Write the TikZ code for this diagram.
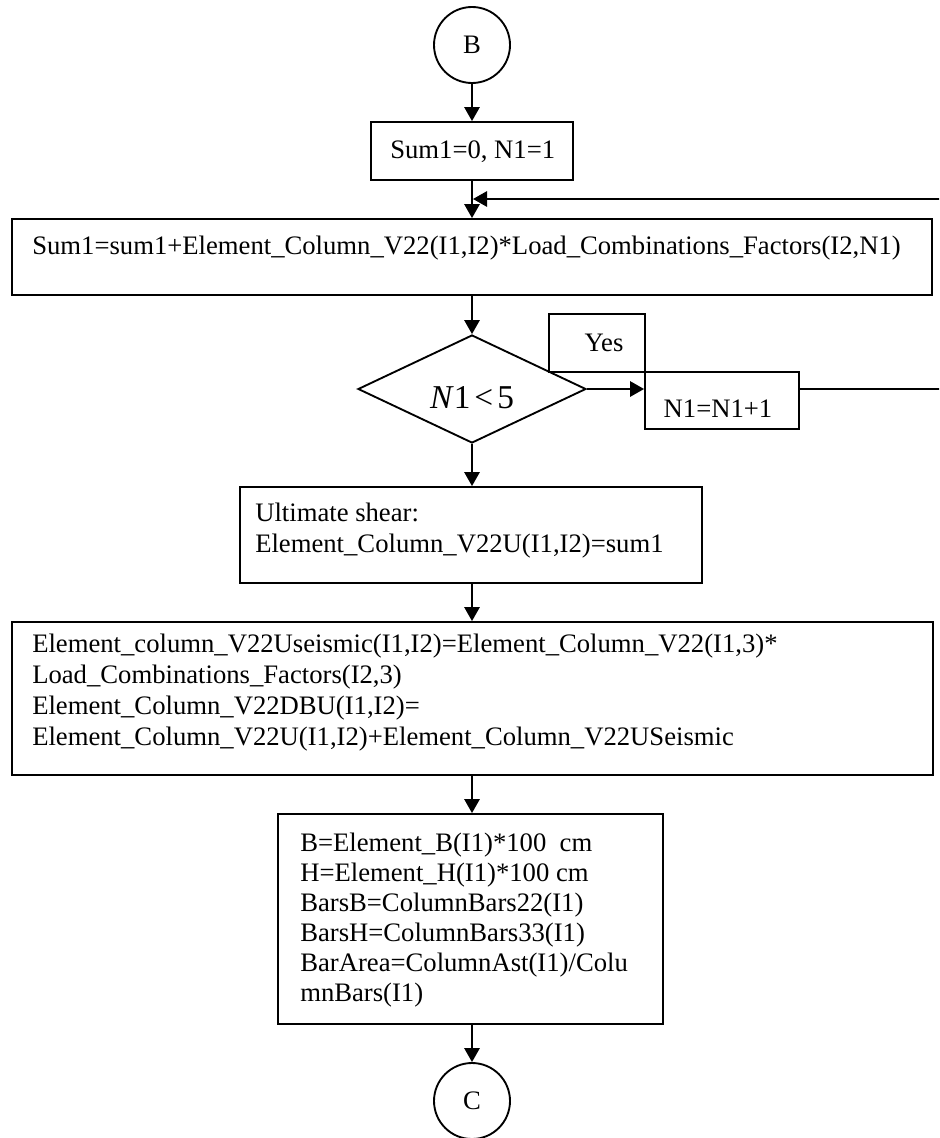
\documentclass[tikz,border=0pt]{standalone}
\usepackage{fontspec}
\setmainfont{Liberation Serif}
\usetikzlibrary{shapes.geometric,arrows.meta,fit,calc}
\begin{document}
\begin{tikzpicture}[x=0.75pt,y=-0.75pt,
  every node/.style={font=\fontsize{20}{23.25}\selectfont},
  box/.style={draw, rectangle, inner sep=0pt, line width=1.4pt},
  ring/.style={draw, circle, inner sep=0pt, minimum size=57pt, line width=1.4pt},
  txt/.style={anchor=base west, inner sep=0pt},
  ctxt/.style={anchor=base, inner sep=0pt},
  conn/.style={line width=1.4pt, -{Triangle[length=10.5pt,width=11.5pt]}}]
\useasboundingbox (0,0) rectangle (939,1138);
\clip (0,0) rectangle (939,1138);

% helper coordinates for the loop connector
\coordinate (join) at (473,199);
\coordinate (rt) at (955,199);

% circle B
\node[ring] (B) at (472,45) {B};

% Sum1=0 box
\node[box, fit={(371,122) (573,180)}] (s0) {};
\node[txt] (s0t) at (390,158) {Sum1=0, N1=1};

% box 1
\node[box, fit={(12,219) (932,295)}] (b1) {};
\node[txt] (b1t) at (32,254) {Sum1=sum1+Element\_Column\_V22(I1,I2)*Load\_Combinations\_Factors(I2,N1)};

% diamond
\node[draw, diamond, line width=1.4pt, inner sep=0pt, minimum width=171pt, minimum height=81pt] (dia) at (472,389) {};
\node[ctxt, font=\fontsize{25}{30}\selectfont] (diat) at (472,408) {\textit{N}1\kern3pt<\kern3pt5};

% Yes box
\node[box, fit={(549,314) (645,372)}] (yes) {};
\node[ctxt] (yest) at (604,351) {Yes};

% N1 box
\node[box, fit={(645,372) (799,429)}] (n1) {};
\node[ctxt] (n1t) at (718,417) {N1=N1+1};

% Ultimate shear box
\node[box, fit={(240,487) (702,583)}] (ult) {};
\node[txt] (ult1) at (255,521) {Ultimate shear:};
\node[txt] (ult2) at (255,552) {Element\_Column\_V22U(I1,I2)=sum1};

% box 2
\node[box, fit={(12,622) (933,775)}] (b2) {};
\node[txt] (b2a) at (32,652) {Element\_column\_V22Useismic(I1,I2)=Element\_Column\_V22(I1,3)*};
\node[txt] (b2b) at (32,683) {Load\_Combinations\_Factors(I2,3)};
\node[txt] (b2c) at (32,714) {Element\_Column\_V22DBU(I1,I2)=};
\node[txt] (b2d) at (32,745) {Element\_Column\_V22U(I1,I2)+Element\_Column\_V22USeismic};

% box B
\node[box, fit={(278,814) (663,1024)}] (bb) {};
\node[txt] (bb1) at (300,851) {B=Element\_B(I1)*100\ \ cm};
\node[txt] (bb2) at (300,881) {H=Element\_H(I1)*100 cm};
\node[txt] (bb3) at (300,911) {BarsB=ColumnBars22(I1)};
\node[txt] (bb4) at (300,941) {BarsH=ColumnBars33(I1)};
\node[txt] (bb5) at (300,971) {BarArea=ColumnAst(I1)/Colu};
\node[txt] (bb6) at (300,1001) {mnBars(I1)};

% circle C
\node[ring] (C) at (472,1101) {C};

% connectors (all on the axis x of B)
\draw[conn] (B.south) -- (s0.north -| B);
\draw[conn] (s0.south -| B) -- (b1.north -| B);
\draw[conn] (b1.south -| B) -- (dia.north);
\draw[conn] (dia.east) -- (dia.east -| n1.west);
\draw[conn] (dia.east -| n1.east) -- (dia.east -| rt) -- (rt) -- (join);
\draw[conn] (dia.south) -- (ult.north -| B);
\draw[conn] (ult.south -| B) -- (b2.north -| B);
\draw[conn] (b2.south -| B) -- (bb.north -| B);
\draw[conn] (bb.south -| B) -- (C.north);
\end{tikzpicture}
\end{document}
